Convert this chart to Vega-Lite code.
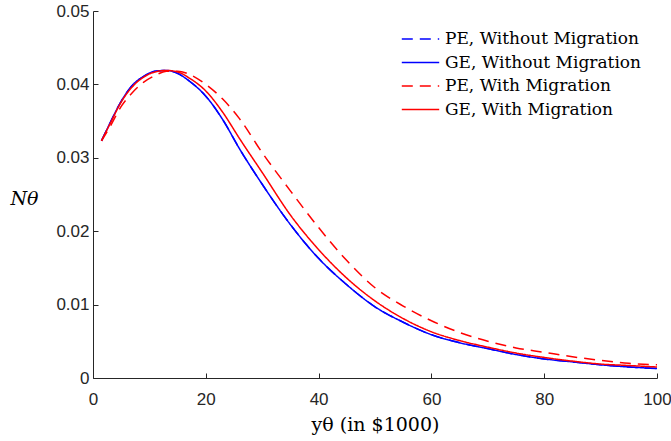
{
  "$schema": "https://vega.github.io/schema/vega-lite/v6.json",
  "autosize": {"type": "none"},
  "width": 564,
  "height": 367,
  "padding": {"left": 93, "top": 11, "right": 14, "bottom": 63},
  "config": {
    "view": {"stroke": null},
    "axis": {
      "domainColor": "#262626",
      "tickColor": "#262626",
      "labelColor": "#262626",
      "titleColor": "#000000",
      "labelFont": "Liberation Sans",
      "labelFontSize": 17,
      "titleFont": "DejaVu Serif",
      "titleFontSize": 18,
      "titleFontWeight": "normal",
      "grid": false,
      "tickSize": -5,
      "labelFlush": false
    },
    "legend": {
      "labelFont": "DejaVu Serif",
      "labelFontSize": 17,
      "labelColor": "#000000",
      "labelLimit": 400
    }
  },
  "data": {
    "values": [
      {"x": 1.5, "y": 0.0323, "series": "PE, Without Migration"},
      {"x": 3, "y": 0.0347, "series": "PE, Without Migration"},
      {"x": 5, "y": 0.0377, "series": "PE, Without Migration"},
      {"x": 7, "y": 0.0399, "series": "PE, Without Migration"},
      {"x": 9, "y": 0.0411, "series": "PE, Without Migration"},
      {"x": 11, "y": 0.0418, "series": "PE, Without Migration"},
      {"x": 13, "y": 0.0419, "series": "PE, Without Migration"},
      {"x": 15, "y": 0.0415, "series": "PE, Without Migration"},
      {"x": 17, "y": 0.0405, "series": "PE, Without Migration"},
      {"x": 20, "y": 0.0384, "series": "PE, Without Migration"},
      {"x": 23, "y": 0.0352, "series": "PE, Without Migration"},
      {"x": 26, "y": 0.0312, "series": "PE, Without Migration"},
      {"x": 30, "y": 0.0264, "series": "PE, Without Migration"},
      {"x": 35, "y": 0.0209, "series": "PE, Without Migration"},
      {"x": 40, "y": 0.0163, "series": "PE, Without Migration"},
      {"x": 45, "y": 0.0127, "series": "PE, Without Migration"},
      {"x": 50, "y": 0.0097, "series": "PE, Without Migration"},
      {"x": 55, "y": 0.0076, "series": "PE, Without Migration"},
      {"x": 60, "y": 0.0059, "series": "PE, Without Migration"},
      {"x": 65, "y": 0.0048, "series": "PE, Without Migration"},
      {"x": 70, "y": 0.0040, "series": "PE, Without Migration"},
      {"x": 75, "y": 0.0032, "series": "PE, Without Migration"},
      {"x": 80, "y": 0.0026, "series": "PE, Without Migration"},
      {"x": 85, "y": 0.0022, "series": "PE, Without Migration"},
      {"x": 90, "y": 0.0018, "series": "PE, Without Migration"},
      {"x": 95, "y": 0.0015, "series": "PE, Without Migration"},
      {"x": 100, "y": 0.0013, "series": "PE, Without Migration"},
      {"x": 1.5, "y": 0.0323, "series": "GE, Without Migration"},
      {"x": 3, "y": 0.0347, "series": "GE, Without Migration"},
      {"x": 5, "y": 0.0377, "series": "GE, Without Migration"},
      {"x": 7, "y": 0.0399, "series": "GE, Without Migration"},
      {"x": 9, "y": 0.0411, "series": "GE, Without Migration"},
      {"x": 11, "y": 0.0418, "series": "GE, Without Migration"},
      {"x": 13, "y": 0.0419, "series": "GE, Without Migration"},
      {"x": 15, "y": 0.0415, "series": "GE, Without Migration"},
      {"x": 17, "y": 0.0405, "series": "GE, Without Migration"},
      {"x": 20, "y": 0.0384, "series": "GE, Without Migration"},
      {"x": 23, "y": 0.0352, "series": "GE, Without Migration"},
      {"x": 26, "y": 0.0312, "series": "GE, Without Migration"},
      {"x": 30, "y": 0.0264, "series": "GE, Without Migration"},
      {"x": 35, "y": 0.0209, "series": "GE, Without Migration"},
      {"x": 40, "y": 0.0163, "series": "GE, Without Migration"},
      {"x": 45, "y": 0.0127, "series": "GE, Without Migration"},
      {"x": 50, "y": 0.0097, "series": "GE, Without Migration"},
      {"x": 55, "y": 0.0076, "series": "GE, Without Migration"},
      {"x": 60, "y": 0.0059, "series": "GE, Without Migration"},
      {"x": 65, "y": 0.0048, "series": "GE, Without Migration"},
      {"x": 70, "y": 0.0040, "series": "GE, Without Migration"},
      {"x": 75, "y": 0.0032, "series": "GE, Without Migration"},
      {"x": 80, "y": 0.0026, "series": "GE, Without Migration"},
      {"x": 85, "y": 0.0022, "series": "GE, Without Migration"},
      {"x": 90, "y": 0.0018, "series": "GE, Without Migration"},
      {"x": 95, "y": 0.0015, "series": "GE, Without Migration"},
      {"x": 100, "y": 0.0013, "series": "GE, Without Migration"},
      {"x": 1.5, "y": 0.0323, "series": "PE, With Migration"},
      {"x": 3, "y": 0.0342, "series": "PE, With Migration"},
      {"x": 5, "y": 0.0370, "series": "PE, With Migration"},
      {"x": 7, "y": 0.0389, "series": "PE, With Migration"},
      {"x": 9, "y": 0.0403, "series": "PE, With Migration"},
      {"x": 11, "y": 0.0412, "series": "PE, With Migration"},
      {"x": 13, "y": 0.0418, "series": "PE, With Migration"},
      {"x": 15, "y": 0.0418, "series": "PE, With Migration"},
      {"x": 17, "y": 0.0414, "series": "PE, With Migration"},
      {"x": 20, "y": 0.0400, "series": "PE, With Migration"},
      {"x": 23, "y": 0.0380, "series": "PE, With Migration"},
      {"x": 26, "y": 0.0353, "series": "PE, With Migration"},
      {"x": 30, "y": 0.0307, "series": "PE, With Migration"},
      {"x": 35, "y": 0.0255, "series": "PE, With Migration"},
      {"x": 40, "y": 0.0205, "series": "PE, With Migration"},
      {"x": 45, "y": 0.0160, "series": "PE, With Migration"},
      {"x": 50, "y": 0.0123, "series": "PE, With Migration"},
      {"x": 55, "y": 0.0098, "series": "PE, With Migration"},
      {"x": 60, "y": 0.0078, "series": "PE, With Migration"},
      {"x": 65, "y": 0.0062, "series": "PE, With Migration"},
      {"x": 70, "y": 0.0050, "series": "PE, With Migration"},
      {"x": 75, "y": 0.0041, "series": "PE, With Migration"},
      {"x": 80, "y": 0.0035, "series": "PE, With Migration"},
      {"x": 85, "y": 0.0029, "series": "PE, With Migration"},
      {"x": 90, "y": 0.0024, "series": "PE, With Migration"},
      {"x": 95, "y": 0.0020, "series": "PE, With Migration"},
      {"x": 100, "y": 0.0018, "series": "PE, With Migration"},
      {"x": 1.5, "y": 0.0323, "series": "GE, With Migration"},
      {"x": 3, "y": 0.0346, "series": "GE, With Migration"},
      {"x": 5, "y": 0.0376, "series": "GE, With Migration"},
      {"x": 7, "y": 0.0397, "series": "GE, With Migration"},
      {"x": 9, "y": 0.0410, "series": "GE, With Migration"},
      {"x": 11, "y": 0.0417, "series": "GE, With Migration"},
      {"x": 13, "y": 0.0419, "series": "GE, With Migration"},
      {"x": 15, "y": 0.0417, "series": "GE, With Migration"},
      {"x": 17, "y": 0.0409, "series": "GE, With Migration"},
      {"x": 20, "y": 0.0391, "series": "GE, With Migration"},
      {"x": 23, "y": 0.0362, "series": "GE, With Migration"},
      {"x": 26, "y": 0.0326, "series": "GE, With Migration"},
      {"x": 30, "y": 0.0280, "series": "GE, With Migration"},
      {"x": 35, "y": 0.0222, "series": "GE, With Migration"},
      {"x": 40, "y": 0.0175, "series": "GE, With Migration"},
      {"x": 45, "y": 0.0136, "series": "GE, With Migration"},
      {"x": 50, "y": 0.0105, "series": "GE, With Migration"},
      {"x": 55, "y": 0.0081, "series": "GE, With Migration"},
      {"x": 60, "y": 0.0063, "series": "GE, With Migration"},
      {"x": 65, "y": 0.0051, "series": "GE, With Migration"},
      {"x": 70, "y": 0.0042, "series": "GE, With Migration"},
      {"x": 75, "y": 0.0034, "series": "GE, With Migration"},
      {"x": 80, "y": 0.0028, "series": "GE, With Migration"},
      {"x": 85, "y": 0.0023, "series": "GE, With Migration"},
      {"x": 90, "y": 0.0019, "series": "GE, With Migration"},
      {"x": 95, "y": 0.0017, "series": "GE, With Migration"},
      {"x": 100, "y": 0.0015, "series": "GE, With Migration"}
    ]
  },
  "mark": {"type": "line", "strokeWidth": 1.5, "interpolate": "monotone"},
  "encoding": {
    "x": {
      "field": "x",
      "type": "quantitative",
      "scale": {"domain": [0, 100], "nice": false},
      "axis": {
        "values": [0, 20, 40, 60, 80, 100],
        "title": "yθ (in $1000)",
        "titleFont": "DejaVu Serif",
        "titleFontSize": 19,
        "labelPadding": 18,
        "titleY": 52,
        "titleBaseline": "alphabetic"
      }
    },
    "y": {
      "field": "y",
      "type": "quantitative",
      "scale": {"domain": [0, 0.05], "nice": false},
      "axis": {
        "values": [0, 0.01, 0.02, 0.03, 0.04, 0.05],
        "format": "~g",
        "title": "Nθ",
        "titleFont": "DejaVu Serif",
        "titleFontSize": 19,
        "titleFontStyle": "italic",
        "titleAngle": 0,
        "titleX": -69,
        "titleY": 187,
        "titleAlign": "center",
        "titleBaseline": "middle",
        "labelPadding": 9
      }
    },
    "color": {
      "field": "series",
      "type": "nominal",
      "scale": {
        "domain": ["PE, Without Migration", "GE, Without Migration", "PE, With Migration", "GE, With Migration"],
        "range": ["#0000ff", "#0000ff", "#ff0000", "#ff0000"]
      },
      "legend": {
        "title": null,
        "orient": "none",
        "legendX": 308,
        "legendY": 18,
        "symbolType": "stroke",
        "symbolSize": 1400,
        "symbolStrokeWidth": 1.5,
        "labelOffset": 5,
        "clipHeight": 20,
        "rowPadding": 3.5
      }
    },
    "strokeDash": {
      "field": "series",
      "type": "nominal",
      "scale": {
        "domain": ["PE, Without Migration", "GE, Without Migration", "PE, With Migration", "GE, With Migration"],
        "range": [[11, 7], [1, 0], [11, 7], [1, 0]]
      },
      "legend": {
        "title": null,
        "orient": "none",
        "legendX": 308,
        "legendY": 18,
        "symbolType": "stroke",
        "symbolSize": 1400,
        "symbolStrokeWidth": 1.5,
        "labelOffset": 5,
        "clipHeight": 20,
        "rowPadding": 3.5
      }
    }
  }
}
